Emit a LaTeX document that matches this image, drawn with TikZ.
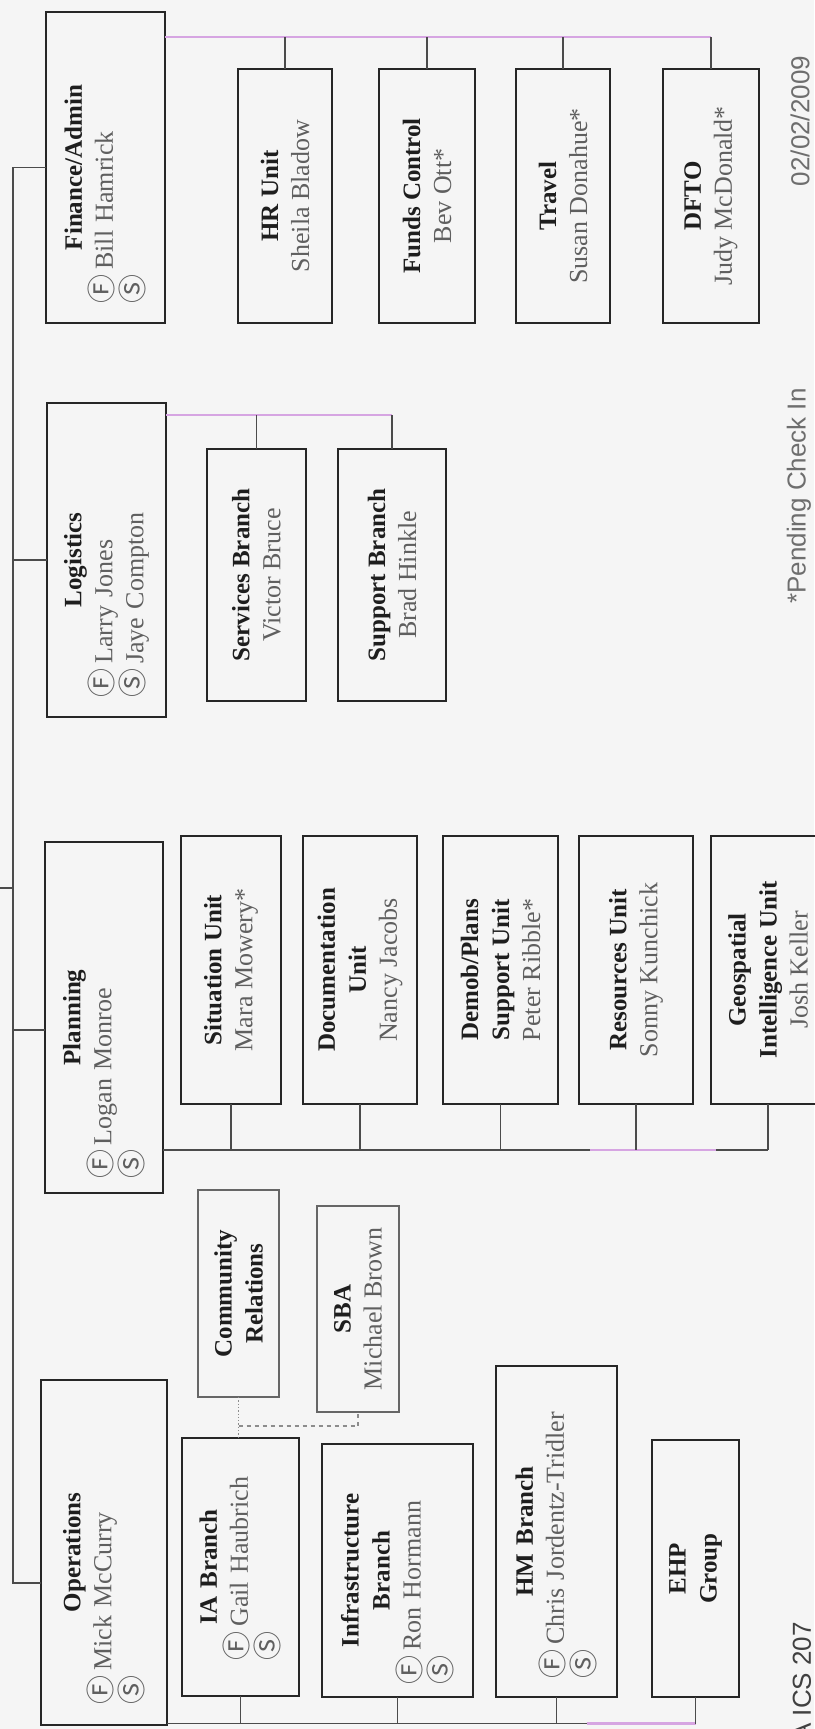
\documentclass[tikz,border=0pt]{standalone}
\usepackage{fontspec}
\setmainfont{Liberation Serif}
\newfontfamily\sansf{Liberation Sans}
\newfontfamily\cjkf{Noto Sans CJK JP}
\usetikzlibrary{calc}
\definecolor{bgc}{RGB}{245,245,245}
\definecolor{titlec}{RGB}{30,30,30}
\definecolor{namec}{RGB}{95,95,95}
\definecolor{lilac}{RGB}{214,165,226}
\definecolor{linec}{RGB}{75,75,75}
\definecolor{notec}{RGB}{110,110,110}
\newcommand{\ttl}[1]{{\bfseries\color{titlec}#1}}
\newcommand{\nm}[1]{{\color{namec}\fontsize{26}{31}\selectfont #1}}
\newcommand{\circF}{{\cjkf\fontsize{29}{31}\selectfont Ⓕ}}
\newcommand{\circS}{{\cjkf\fontsize{29}{31}\selectfont Ⓢ}}
\tikzset{
  box/.style={draw=black!85, line width=2.4pt, rotate=90, inner sep=0pt, outer sep=0pt,
              font=\fontsize{25}{31}\selectfont},
  ubox/.style={box, align=center},
  lbox/.style={ubox, draw=black!60, line width=1.3pt},
  bus/.style={draw=linec, line width=1.4pt},
  pinkbus/.style={draw=lilac, line width=2.8pt},
  dotline/.style={draw=black!45, line width=1.3pt, dotted},
  dashline/.style={draw=black!45, line width=1.3pt, dashed, dash pattern=on 4pt off 4pt},
  note/.style={rotate=90, inner sep=0pt, text=notec, font=\sansf\fontsize{26}{30}\selectfont}
}
\begin{document}
\begin{tikzpicture}[x=1pt,y=-1pt]
\useasboundingbox (0,0) rectangle (814,1729);
\fill[bgc] (0,0) rectangle (814,1729);

% ---------- Finance / Admin ----------
\node[box, minimum width=311, minimum height=119, text width=271] (fin) at (105.5,167.5)
  {\centering\ttl{Finance/Admin}\par\raggedright\nm{\circF\,Bill Hamrick}\par\nm{\circS}};
\node[ubox, minimum width=254, minimum height=94] (hr) at (285,196) {\ttl{HR Unit}\\\nm{Sheila Bladow}};
\node[ubox, minimum width=254, minimum height=96] (funds) at (427,196) {\ttl{Funds Control}\\\nm{Bev Ott*}};
\node[ubox, minimum width=254, minimum height=94] (travel) at (563,196) {\ttl{Travel}\\\nm{Susan Donahue*}};
\node[ubox, minimum width=254, minimum height=96] (dfto) at (711,196) {\ttl{DFTO}\\\nm{Judy McDonald*}};

% ---------- Logistics ----------
\node[box, minimum width=314, minimum height=119, text width=274] (log) at (106.5,560)
  {\centering\ttl{Logistics}\par\raggedright\nm{\circF\,Larry Jones}\par\nm{\circS\,Jaye Compton}};
\node[ubox, minimum width=252, minimum height=99] (serv) at (256.5,575) {\ttl{Services Branch}\\\nm{Victor Bruce}};
\node[ubox, minimum width=252, minimum height=108] (supp) at (392,575) {\ttl{Support Branch}\\\nm{Brad Hinkle}};

% ---------- Planning ----------
\node[box, minimum width=351, minimum height=118, text width=322] (plan) at (104,1017.5)
  {\centering\ttl{Planning}\par\raggedright\nm{\circF\,Logan Monroe}\par\nm{\circS}};
\node[ubox, minimum width=268, minimum height=100] (sit) at (231,970) {\ttl{Situation Unit}\\\nm{Mara Mowery*}};
\node[ubox, minimum width=268, minimum height=114] (doc) at (360,970) {\ttl{Documentation}\\\ttl{Unit}\\\nm{Nancy Jacobs}};
\node[ubox, minimum width=268, minimum height=115] (demob) at (500.5,970) {\ttl{Demob/Plans}\\\ttl{Support Unit}\\\nm{Peter Ribble*}};
\node[ubox, minimum width=268, minimum height=114] (res) at (636,970) {\ttl{Resources Unit}\\\nm{Sonny Kunchick}};
\node[ubox, minimum width=268, minimum height=114] (geo) at (768,970) {\ttl{Geospatial}\\\ttl{Intelligence Unit}\\\nm{Josh Keller}};

% ---------- Community Relations / SBA ----------
\node[lbox, minimum width=207, minimum height=81] (cr) at (238.5,1293.5) {\ttl{Community}\\\ttl{Relations}};
\node[lbox, minimum width=206, minimum height=82] (sba) at (358,1309) {\ttl{SBA}\\\nm{Michael Brown}};

% ---------- Operations ----------
\node[box, minimum width=345, minimum height=126, text width=303] (ops) at (104,1552.5)
  {\centering\ttl{Operations}\par\raggedright\nm{\circF\,Mick McCurry}\par\nm{\circS}};
\node[box, minimum width=258, minimum height=117, text width=186] (ia) at (240.5,1567)
  {\centering\ttl{IA Branch}\par\raggedright\nm{\circF\,Gail Haubrich}\par\nm{\circS}};
\node[box, minimum width=253, minimum height=151, text width=227] (infra) at (397.5,1570.5)
  {\centering\ttl{Infrastructure}\par\ttl{Branch}\par\raggedright\nm{\circF\,Ron Hormann}\par\nm{\circS}};
\node[box, minimum width=331, minimum height=121, text width=293] (hm) at (556.5,1531.5)
  {\centering\ttl{HM Branch}\par\raggedright\nm{\circF\,Chris Jordentz-Tridler}\par\nm{\circS}};
\node[ubox, minimum width=257, minimum height=87] (ehp) at (695.5,1568.5) {\ttl{EHP}\\\ttl{Group}};

% ---------- trunk ----------
\coordinate (ttop) at (13,167.5);
\coordinate (tbot) at (13,1583);
\coordinate (parent) at (0,888);
\draw[bus] (fin.north) -- (ttop) -- (tbot) -- (tbot -| ops.north);
\draw[bus] (log.north) -- (log.north -| ttop);
\draw[bus] ($(plan.north)+(0,12.5)$) coordinate (ptick) -- (ptick -| ttop);
\draw[bus] (parent) -- (parent -| ttop);

% ---------- finance bus ----------
\coordinate (finbus) at ($(fin.south east)+(0,25)$);
\draw[pinkbus] (finbus) -- (finbus -| dfto.east);
\foreach \n in {hr,funds,travel,dfto} {\draw[bus] (\n.east) -- (\n.east |- finbus);}

% ---------- logistics bus ----------
\coordinate (logbus) at ($(log.south east)+(0,12)$);
\draw[pinkbus] (logbus) -- (logbus -| supp.east);
\foreach \n in {serv,supp} {\draw[bus] (\n.east) -- (\n.east |- logbus);}

% ---------- planning bus ----------
\coordinate (planbus) at ($(plan.south west)+(0,-43)$);
\draw[bus] (planbus) -- (planbus -| geo.west);
\draw[pinkbus, line width=2.2pt] ($(planbus -| res.west)+(-46,0)$) -- ($(planbus -| res.west)+(80,0)$);
\foreach \n in {sit,doc,demob,res,geo} {\draw[bus] (\n.west) -- (\n.west |- planbus);}

% ---------- operations bus ----------
\coordinate (botbus) at ($(ops.south west)+(0,-1.5)$);
\draw[bus] (botbus) -- (botbus -| ehp.west);
\draw[pinkbus, line width=2.2pt] ($(botbus -| hm.west)+(30,0)$) -- (botbus -| ehp.west);
\foreach \n in {ia,infra,hm,ehp} {\draw[bus] (\n.west) -- (\n.west |- botbus);}

% ---------- dotted links ----------
\draw[dotline] (cr.west) -- (cr.west |- ia.east);
\draw[dashline] ($(cr.west)+(0,29)$) -| (sba.west);

% ---------- notes ----------
\node[note] (date) at (800,121) {02/02/2009};
\node[note] (pending) at (799,496) {*Pending Check In};
\node[note, anchor=east, text=black!75] (ics) at (802,1622) {A ICS 207};
\end{tikzpicture}
\end{document}
